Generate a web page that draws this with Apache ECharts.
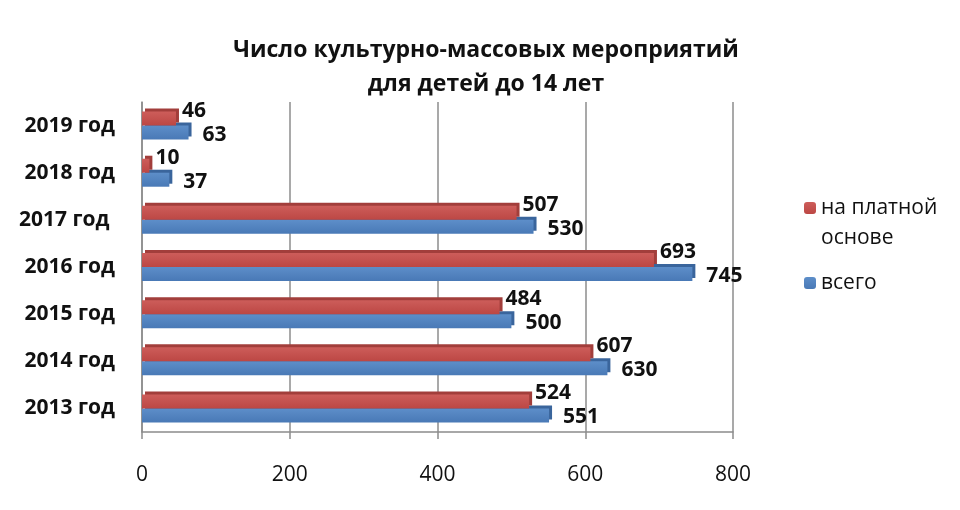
<!DOCTYPE html>
<html>
<head>
<meta charset="utf-8">
<script src="https://cdn.jsdelivr.net/npm/echarts@6/dist/echarts.min.js"></script>
<style>
    html, body { margin: 0; padding: 0; background: #fff; }
    #chart { width: 960px; height: 510px; }
</style>
</head>
<body>
<div id="chart"></div>
<script>
const titleText = 'Число культурно-массовых мероприятий\nдля детей до 14 лет';
const years = ['2013 год', '2014 год', '2015 год', '2016 год', '2017 год ', '2018 год', '2019 год'];
const paidValues = [524, 607, 484, 693, 507, 10, 46];
const totalValues = [551, 630, 500, 745, 530, 37, 63];
const paidName = 'на платной основе';
const totalName = 'всего';
const xTicks = [0, 200, 400, 600, 800];

const font = '"Open Sans", "Noto Sans", sans-serif';

const myChart = echarts.init(document.getElementById('chart'));

const option = {
    backgroundColor: '#fff',
    animation: false,
    title: {
        text: titleText,
        left: 481,
        top: 28,
        textAlign: 'center',
        textStyle: {
            fontFamily: font,
            fontSize: 23,
            fontWeight: 'bold',
            color: '#111',
            lineHeight: 34
        }
    },
    legend: {
        orient: 'vertical',
        left: 799,
        top: 158,
        itemWidth: 12,
        itemHeight: 12,
        itemGap: 15,
        data: [paidName, totalName],
        formatter: function (name) {
            // пустая первая строка, чтобы значок стоял у первой строки
            return name === paidName ? '\nна платной\nоснове' : name;
        },
        textStyle: {
            fontFamily: font,
            fontSize: 21,
            color: '#111',
            lineHeight: 30
        }
    },
    grid: {
        left: 142,
        right: 227,
        top: 102,
        bottom: 78
    },
    xAxis: {
        type: 'value',
        min: xTicks[0],
        max: xTicks[xTicks.length - 1],
        interval: 200,
        axisLine: { show: true, lineStyle: { color: '#8c8c8c', width: 1.5 } },
        axisTick: { show: true, length: 7, lineStyle: { color: '#8c8c8c', width: 1.5 } },
        splitLine: {
            show: true,
            lineStyle: { color: '#8c8c8c', width: 1.5 }
        },
        axisLabel: {
            margin: 33,
            fontFamily: font,
            fontSize: 21,
            color: '#111'
        }
    },
    yAxis: {
        type: 'category',
        data: years,
        axisLine: { show: true, lineStyle: { color: '#8c8c8c', width: 1.5 } },
        axisTick: { show: false },
        axisLabel: {
            margin: 27,
            fontFamily: font,
            fontSize: 21,
            fontWeight: 'bold',
            color: '#111'
        }
    },
    series: [
        {
            name: paidName,
            type: 'bar',
            z: 3,
            data: paidValues,
            barWidth: 14,
            barGap: '0%',
            itemStyle: {
                color: new echarts.graphic.LinearGradient(0, 0, 0, 1, [
                    { offset: 0, color: '#cd5d5a' },
                    { offset: 1, color: '#bc4744' }
                ]),
                shadowColor: '#a23e3b',
                shadowOffsetX: 3,
                shadowOffsetY: -3,
                shadowBlur: 0
            },
            label: {
                show: true,
                position: 'right',
                offset: [1, -8],
                fontFamily: font,
                fontSize: 21,
                fontWeight: 'bold',
                color: '#111'
            }
        },
        {
            name: totalName,
            type: 'bar',
            z: 2,
            data: totalValues,
            barWidth: 14,
            barGap: '0%',
            itemStyle: {
                color: new echarts.graphic.LinearGradient(0, 0, 0, 1, [
                    { offset: 0, color: '#5d8ec9' },
                    { offset: 1, color: '#4979b6' }
                ]),
                shadowColor: '#3a659c',
                shadowOffsetX: 3,
                shadowOffsetY: -3,
                shadowBlur: 0
            },
            label: {
                show: true,
                position: 'right',
                offset: [9, 2],
                fontFamily: font,
                fontSize: 21,
                fontWeight: 'bold',
                color: '#111'
            }
        }
    ]
};

myChart.setOption(option);
</script>
</body>
</html>
